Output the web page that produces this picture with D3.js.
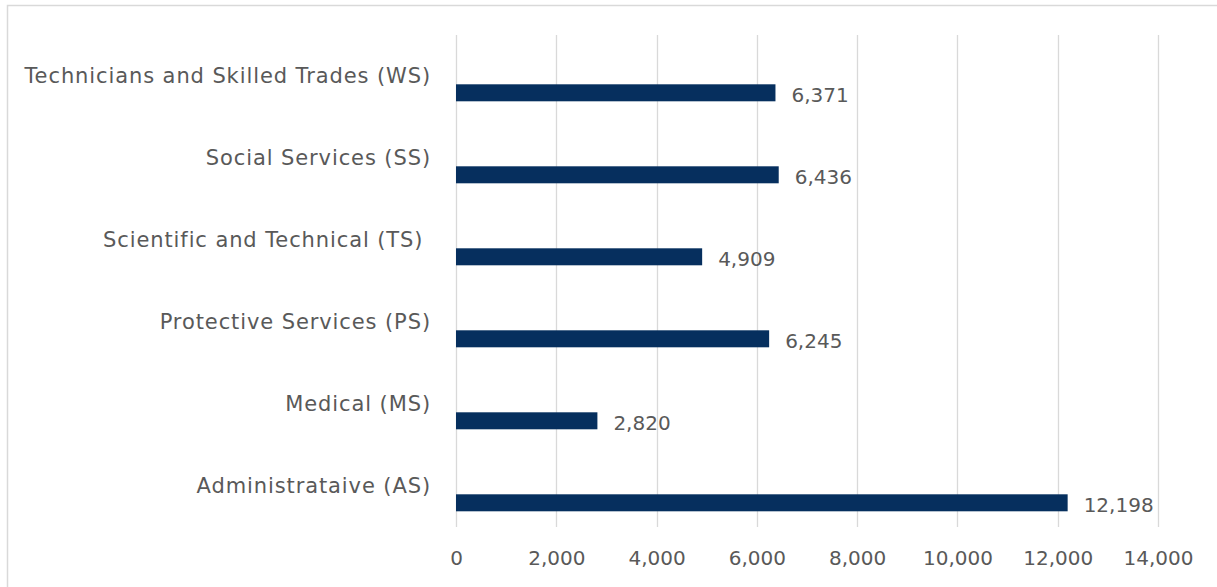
<!DOCTYPE html>
<html><head><meta charset="utf-8">
<script src="https://cdn.jsdelivr.net/npm/d3@7"></script>
<style>
html,body{margin:0;padding:0;background:#fff;}
svg{display:block;}
text{font-family:"DejaVu Sans", sans-serif;fill:#595959;}
</style></head>
<body>
<svg id="chart" width="1217" height="587"></svg>
<script>
const categories = ["Technicians and Skilled Trades (WS)","Social Services (SS)","Scientific and Technical (TS) ","Protective Services (PS)","Medical (MS)","Administrataive (AS)"];
const values = [6371, 6436, 4909, 6245, 2820, 12198];
const tickValues = [0,2000,4000,6000,8000,10000,12000,14000];

const svg = d3.select("#chart");
svg.append("rect").attr("x",7.5).attr("y",5.5).attr("width",1230).attr("height",600)
  .attr("fill","none").attr("stroke","#d9d9d9").attr("stroke-width",1.5);

const x = d3.scaleLinear().domain([0,14000]).range([456,1158]);
const y = d3.scaleBand().domain(categories).range([35,527]).paddingInner(0).paddingOuter(0);
const fmt = d3.format(",");

// gridlines
svg.append("g").selectAll("line").data(tickValues).join("line")
  .attr("x1",d=>Math.round(x(d))+0.5).attr("x2",d=>Math.round(x(d))+0.5)
  .attr("y1",35).attr("y2",527).attr("stroke","#d9d9d9").attr("stroke-width",1.3);

// x axis labels
const xAxis = d3.axisBottom(x).tickValues(tickValues).tickFormat(fmt).tickSize(0).tickPadding(0);
const gx = svg.append("g").attr("transform","translate(0,527)").call(xAxis);
gx.select(".domain").remove();
gx.selectAll("text").attr("dy",null).attr("y",31).attr("dominant-baseline","central")
  .style("font-size","20px").style("font-family",null).attr("fill","#595959");

// category labels
svg.append("g").selectAll("text").data(categories).join("text")
  .attr("x",431).attr("y",d=>y(d)+y.bandwidth()/2)
  .attr("text-anchor","end").attr("dominant-baseline","central")
  .style("white-space","pre").style("font-size","21px").style("letter-spacing","0.9px").text(d=>d);

// bars
svg.append("g").selectAll("rect").data(values).join("rect")
  .attr("x",x(0)).attr("y",(d,i)=>y(categories[i])+49.3)
  .attr("width",d=>x(d)-x(0)).attr("height",17)
  .attr("fill","#062f5e");

// value labels
svg.append("g").selectAll("text").data(values).join("text")
  .attr("x",d=>x(d)+16).attr("y",(d,i)=>y(categories[i])+49.3+8.5+2)
  .attr("dominant-baseline","central").style("font-size","20px").text(d=>fmt(d));
</script>
</body></html>
